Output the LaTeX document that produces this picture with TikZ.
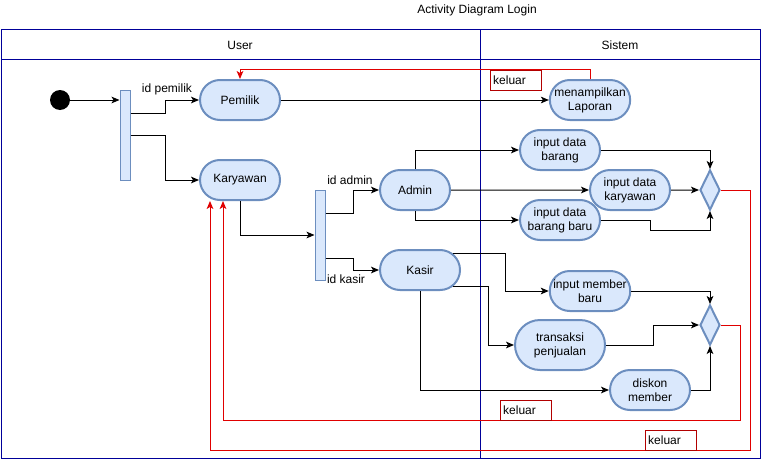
\documentclass[tikz,border=0pt]{standalone}
\usepackage{fontspec}
\setmainfont{Liberation Sans}
\usetikzlibrary{arrows.meta,shapes.misc,shapes.geometric}
\definecolor{actfill}{HTML}{DAE8FC}
\definecolor{actline}{HTML}{6C8EBF}
\definecolor{lanecol}{HTML}{000099}
\definecolor{backred}{HTML}{E00000}
\definecolor{boxred}{HTML}{B20000}
\tikzset{
  txt/.style={font=\fontsize{9}{10.5}\selectfont},
  act/.style={txt,rounded rectangle,draw=actline,fill=actfill,line width=1.5pt,minimum width=60pt,minimum height=30pt,inner sep=0pt,align=center},
  bar/.style={rectangle,draw=actline,fill=actfill,line width=0.75pt,minimum width=7.5pt,minimum height=67.5pt,inner sep=0pt},
  decide/.style={diamond,draw=actline,fill=actfill,line width=1.5pt,minimum width=15pt,minimum height=30pt,inner sep=0pt},
  flow/.style={line width=0.75pt,-{Stealth[length=6pt,width=5pt,inset=1.5pt]}},
  back/.style={draw=backred,line width=0.75pt,-{Stealth[length=6pt,width=5pt,inset=1.5pt]}},
  keluarbox/.style={txt,draw=boxred,line width=0.75pt,anchor=north west,text width=34pt,minimum height=15pt,inner xsep=2pt,inner ysep=0pt,align=left}
}
\begin{document}
\begin{tikzpicture}[x=0.75pt,y=-0.75pt]
\useasboundingbox (0,0) rectangle (762,460);
\draw[lanecol,line width=0.75pt] (1,30) rectangle (760,458) (1,60) -- (760,60) (480,30) -- (480,458);
\node[txt] (title) at (477,10) {Activity Diagram Login};
\node[txt] (user) at (240,45) {User};
\node[txt] (sistem) at (620,45) {Sistem};

\node[circle,fill=black,minimum size=15pt,inner sep=0pt] (start) at (60,100) {};
\node[bar] (bar1) at (125,135) {};
\node[act] (pemilik) at (240,100) {Pemilik};
\node[act] (karyawan) at (240,180) {Karyawan};
\node[bar] (bar2) at (320,235) {};
\node[act,minimum width=52.5pt] (admin) at (415,190) {Admin};
\node[act] (kasir) at (420,270) {Kasir};
\node[act] (laporan) at (590,100) {menampilkan\\Laporan};
\node[act] (barang) at (560,150) {input data\\barang};
\node[act] (datakaryawan) at (630,190) {input data\\karyawan};
\node[act] (barangbaru) at (560,220) {input data\\barang baru};
\node[act] (memberbaru) at (590,291) {input member\\baru};
\node[act,minimum width=67.5pt,minimum height=37.5pt] (transaksi) at (560,345) {transaksi\\penjualan};
\node[act] (diskon) at (650,390) {diskon\\member};
\node[decide] (d1) at (710,190) {};
\node[decide] (d2) at (710,325) {};
\node[txt] (idpemilik) at (167,89) {id pemilik};
\node[txt] (idadmin) at (350,180) {id admin};
\node[txt] (idkasir) at (346,279) {id kasir};

\draw[flow] (start) -- (start -| bar1.west);
\draw[flow] (bar1.east |- 0,113) -- (165,113) |- (pemilik);
\draw[flow] (bar1.east |- 0,135) -- (165,135) |- (karyawan);
\draw[flow] (pemilik.east) -- (laporan.west);
\draw[flow] (karyawan.south) |- (bar2.west);
\draw[flow] (bar2.east |- 0,213) -- (353,213) |- (admin);
\draw[flow] (bar2.east |- 0,258) -- (353,258) |- (kasir);
\draw[flow] (admin.north) |- (barang);
\draw[flow] (admin) -- (datakaryawan);
\draw[flow] (admin.south) |- (barangbaru);
\draw[flow] (barang) -| (d1);
\draw[flow] (datakaryawan) -- (d1);
\draw[flow] (barangbaru) -| (650,230) -| (d1.south);
\draw[flow] (kasir.27) -- (kasir.27 -| 505,0) |- (memberbaru);
\draw[flow] (kasir.-27) -- (kasir.-27 -| 488,0) |- (transaksi);
\draw[flow] (kasir.south) |- (diskon);
\draw[flow] (memberbaru) -| (d2);
\draw[flow] (transaksi) -| (653,325) -- (d2);
\draw[flow] (diskon) -| (d2.south);

\draw[back] (laporan.north) -- ++(0,-10) -| (pemilik.north);
\draw[back] (d1) -| (750,450) -| ([xshift=-22.5pt]karyawan.south);
\draw[back] (d2) -| (740,420) -| ([xshift=-12.75pt]karyawan.south);
\node[keluarbox] (keluar1) at (490,70) {keluar};
\node[keluarbox] (keluar2) at (500,400) {keluar};
\node[keluarbox] (keluar3) at (645,430) {keluar};


\end{tikzpicture}
\end{document}
